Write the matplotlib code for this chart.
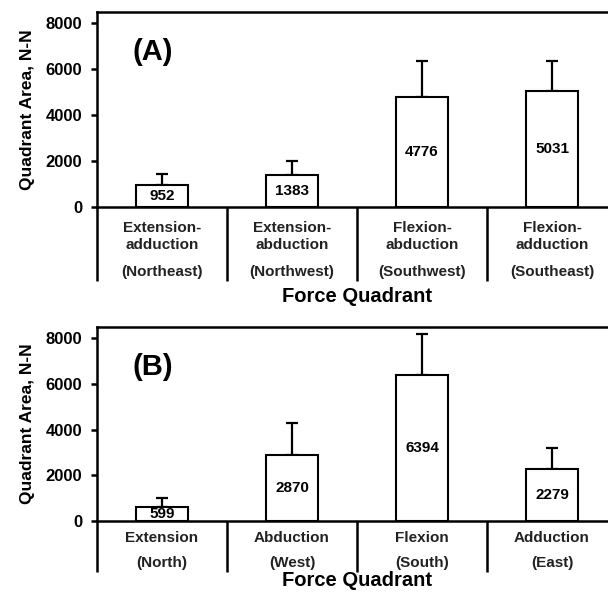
import matplotlib
matplotlib.use('Agg')
from matplotlib import pyplot as plt

plt.rcParams['font.family'] = ['Liberation Sans', 'DejaVu Sans']

# painel A - quadrantes diagonais
nomes_a = ['Extension-\nadduction', 'Extension-\nabduction', 'Flexion-\nabduction', 'Flexion-\nadduction']
direcoes_a = ['(Northeast)', '(Northwest)', '(Southwest)', '(Southeast)']
areas_a = [952, 1383, 4776, 5031]
erros_a = [480, 600, 1570, 1320]

# painel B - quadrantes cardeais
nomes_b = ['Extension', 'Abduction', 'Flexion', 'Adduction']
direcoes_b = ['(North)', '(West)', '(South)', '(East)']
areas_b = [599, 2870, 6394, 2279]
erros_b = [400, 1410, 1780, 910]

yticks = [0, 2000, 4000, 6000, 8000]
lw = 1.8


def desenha_painel(ax, nomes, direcoes, areas, erros, letra, y_nome, y_dir, y_titulo, y_base):
    x = list(range(len(areas)))

    ax.errorbar(x, areas, yerr=[[0] * len(erros), erros], fmt='none', ecolor='black',
                elinewidth=1.6, capsize=4, capthick=1.6, zorder=1)
    ax.bar(x, areas, width=0.4, color='white', edgecolor='black', linewidth=1.5, zorder=2)

    for xi, v in zip(x, areas):
        ax.text(xi, v / 2, str(v), ha='center', va='center', fontsize=11,
                fontweight='bold', zorder=3)

    trans = ax.get_xaxis_transform()
    for xi, nome, direcao in zip(x, nomes, direcoes):
        ax.text(xi, y_nome, nome, transform=trans, ha='center', va='center',
                fontsize=11, fontweight='bold', color='#222222', linespacing=1.2)
        ax.text(xi, y_dir, direcao, transform=trans, ha='center', va='center',
                fontsize=11, fontweight='bold', color='#222222')

    # divisorias abaixo do eixo
    for xd in [-0.5, 0.5, 1.5, 2.5]:
        ax.plot([xd, xd], [0, y_base], transform=trans, color='black', lw=lw,
                clip_on=False, solid_capstyle='butt')

    ax.text(0.5, y_titulo, 'Force Quadrant', transform=ax.transAxes, ha='center',
            va='center', fontsize=14.5, fontweight='bold')
    ax.text(0.107, 0.795, letra, transform=ax.transAxes, ha='center', va='center',
            fontsize=21, fontweight='bold')

    ax.set_xlim(-0.5, 3.5)
    ax.set_ylim(0, 8480)
    ax.set_xticks([])
    ax.set_yticks(yticks)
    ax.set_yticklabels([str(t) for t in yticks], fontsize=12, fontweight='bold')
    ax.tick_params(axis='y', direction='out', length=4.5, width=lw, pad=6)
    ax.set_ylabel('Quadrant Area, N-N', fontsize=12.5, fontweight='bold')
    ax.yaxis.set_label_coords(-0.12, 0.5)
    ax.spines['right'].set_visible(False)
    for s in ['left', 'top', 'bottom']:
        ax.spines[s].set_linewidth(lw)


fig = plt.figure(figsize=(6.08, 5.92), dpi=100)

ax1 = fig.add_axes([0.1595, 0.6503, 0.8553, 0.3294])
desenha_painel(ax1, nomes_a, direcoes_a, areas_a, erros_a, '(A)',
               -0.151, -0.333, -0.46, -0.379)

ax2 = fig.add_axes([0.1595, 0.1199, 0.8553, 0.3277])
desenha_painel(ax2, nomes_b, direcoes_b, areas_b, erros_b, '(B)',
               -0.088, -0.216, -0.305, -0.263)

fig.savefig('out.png', dpi=100)
